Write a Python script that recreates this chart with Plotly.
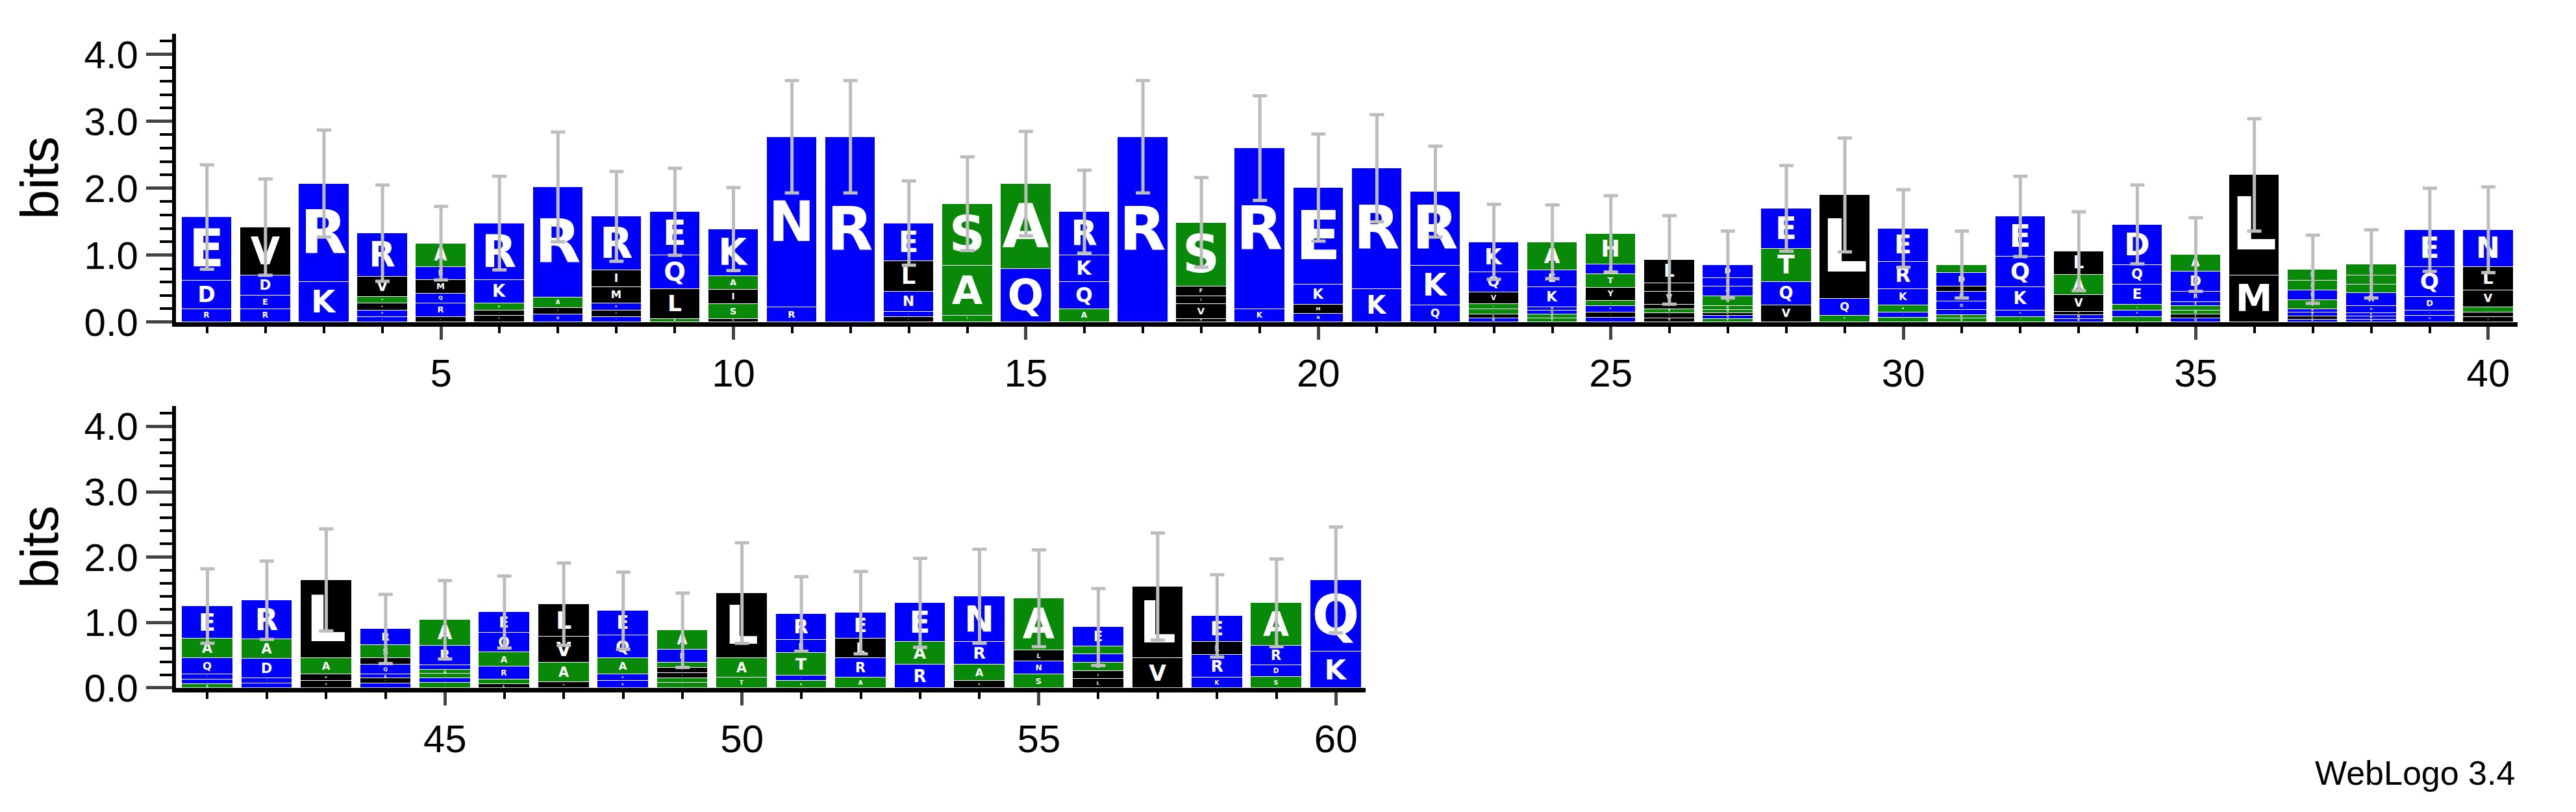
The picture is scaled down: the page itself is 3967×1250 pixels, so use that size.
import plotly.graph_objects as go
from plotly.subplots import make_subplots

# sequence logo data: letters per column listed bottom -> top, heights in bits
positions = list(range(1, 61))
col_letters = [
    "RDE", "REDV", "KR", "QNLAVR", "VRQMEA", "LIAKR", "QIAR", "QLKMIR", "ALQE", "LSIAK",
    "RN", "R", "VQNLE", "TAS", "QA", "AQKR", "R", "YVIFS", "KR", "NMKE",
    "KR", "QKR", "NLGAVQK", "TGQNKEA", "QLKAYTEH", "YWTMVIL", "TNLHASQKD", "VQTE", "TQL", "SQAKRE",
    "SGEQNLDA", "TRKQE", "RNIVAL", "TKAEQD", "QIHGERDA", "ML", "NLEDTRAS", "QKEDRGAS", "RKDQE", "MIAVLN",
    "SKDQAE", "QEDAR", "YMAL", "NMKQLSR", "TNHGERA", "LHRAQE", "MAVL", "RDAQE", "TSMLGEA", "TAL",
    "SKTER", "ARLE", "RAE", "CARN", "SNLA", "LIGDAE", "VL", "KRLE", "SDRA", "KQ",
]
col_heights = [
    [0.2, 0.42, 0.95], [0.2, 0.2, 0.3, 0.72], [0.6, 1.47], [0.08, 0.1, 0.1, 0.1, 0.3, 0.65],
    [0.08, 0.2, 0.15, 0.2, 0.2, 0.35], [0.1, 0.08, 0.1, 0.35, 0.85], [0.12, 0.1, 0.15, 1.65],
    [0.08, 0.1, 0.1, 0.25, 0.25, 0.8], [0.05, 0.45, 0.5, 0.65], [0.05, 0.22, 0.22, 0.2, 0.7],
    [0.23, 2.54], [2.77], [0.08, 0.08, 0.3, 0.45, 0.57], [0.1, 0.75, 0.92], [0.8, 1.27],
    [0.2, 0.4, 0.4, 0.65], [2.77], [0.05, 0.22, 0.12, 0.15, 0.95], [0.2, 2.4], [0.13, 0.13, 0.3, 1.45],
    [0.5, 1.8], [0.25, 0.6, 1.1], [0.06, 0.06, 0.08, 0.07, 0.18, 0.3, 0.45],
    [0.06, 0.06, 0.06, 0.05, 0.3, 0.25, 0.42], [0.07, 0.08, 0.09, 0.08, 0.2, 0.2, 0.15, 0.45],
    [0.06, 0.08, 0.06, 0.06, 0.2, 0.12, 0.35], [0.05, 0.05, 0.04, 0.05, 0.05, 0.15, 0.15, 0.12, 0.2],
    [0.25, 0.35, 0.5, 0.6], [0.1, 0.25, 1.55], [0.07, 0.08, 0.1, 0.25, 0.4, 0.5],
    [0.06, 0.05, 0.08, 0.12, 0.15, 0.08, 0.2, 0.12], [0.08, 0.1, 0.35, 0.45, 0.6],
    [0.05, 0.06, 0.05, 0.25, 0.3, 0.35], [0.08, 0.1, 0.08, 0.3, 0.3, 0.6],
    [0.06, 0.06, 0.06, 0.06, 0.06, 0.16, 0.3, 0.25], [0.7, 1.5],
    [0.04, 0.05, 0.06, 0.05, 0.13, 0.15, 0.14, 0.17], [0.04, 0.05, 0.05, 0.1, 0.2, 0.12, 0.14, 0.17],
    [0.1, 0.08, 0.2, 0.45, 0.55], [0.08, 0.07, 0.08, 0.25, 0.35, 0.55],
    [0.05, 0.07, 0.08, 0.25, 0.3, 0.5], [0.06, 0.08, 0.3, 0.3, 0.6], [0.1, 0.1, 0.25, 1.2],
    [0.06, 0.08, 0.06, 0.15, 0.1, 0.2, 0.25], [0.07, 0.07, 0.07, 0.06, 0.07, 0.3, 0.4],
    [0.05, 0.07, 0.2, 0.22, 0.3, 0.32], [0.08, 0.3, 0.4, 0.5], [0.1, 0.1, 0.25, 0.35, 0.38],
    [0.07, 0.07, 0.08, 0.08, 0.08, 0.2, 0.3], [0.15, 0.3, 1.0], [0.1, 0.08, 0.35, 0.2, 0.4],
    [0.15, 0.3, 0.3, 0.4], [0.35, 0.35, 0.6], [0.1, 0.25, 0.35, 0.7], [0.2, 0.2, 0.17, 0.8],
    [0.13, 0.12, 0.13, 0.13, 0.12, 0.3], [0.45, 1.1], [0.15, 0.35, 0.2, 0.4], [0.16, 0.18, 0.3, 0.66],
    [0.55, 1.1],
]
err_half = [
    0.78, 0.72, 0.8, 0.72, 0.55, 0.7, 0.82, 0.67, 0.65, 0.62,
    0.84, 0.84, 0.63, 0.7, 0.78, 0.62, 0.84, 0.67, 0.78, 0.8,
    0.8, 0.68, 0.56, 0.55, 0.57, 0.66, 0.5, 0.64, 0.85, 0.58,
    0.5, 0.6, 0.59, 0.59, 0.55, 0.84, 0.51, 0.51, 0.62, 0.64,
    0.57, 0.6, 0.78, 0.53, 0.6, 0.55, 0.63, 0.59, 0.57, 0.77,
    0.57, 0.63, 0.68, 0.72, 0.74, 0.59, 0.82, 0.63, 0.67, 0.81,
]

BLUE, GREEN, BLACK = "#0000ff", "#088a08", "#000000"
colour_of = {}
for aa in "RKDEQNH":
    colour_of[aa] = BLUE
for aa in "LVIMFWYPC":
    colour_of[aa] = BLACK
for aa in "STGAH":
    colour_of[aa] = GREEN

fig = make_subplots(rows=2, cols=1)

max_levels = max(len(s) for s in col_letters)
for row, cols in [(1, range(0, 40)), (2, range(40, 60))]:
    for lvl in range(max_levels):
        xs, ys, txt, cs = [], [], [], []
        for i in cols:
            if lvl < len(col_letters[i]):
                xs.append(positions[i])
                ys.append(col_heights[i][lvl])
                txt.append(col_letters[i][lvl])
                cs.append(colour_of[col_letters[i][lvl]])
        fig.add_trace(go.Bar(
            x=xs, y=ys, text=txt, marker=dict(color=cs, line=dict(color="white", width=1)),
            width=0.86, textposition="inside", insidetextanchor="middle", textangle=0,
            textfont=dict(family="DejaVu Sans", color="white", size=120, weight="bold"),
            hoverinfo="skip", showlegend=False,
        ), row=row, col=1)
    totals = [sum(col_heights[i]) for i in cols]
    fig.add_trace(go.Scatter(
        x=[positions[i] for i in cols], y=totals, mode="markers",
        marker=dict(size=1, color="rgba(0,0,0,0)"),
        error_y=dict(type="data", array=[err_half[i] for i in cols], color="#bdbdbd",
                     thickness=5, width=11),
        hoverinfo="skip", showlegend=False,
    ), row=row, col=1)

axis_font = dict(family="Liberation Sans, Arial", size=60, color="black")
common_y = dict(range=[0, 4.31], tickvals=[0, 1, 2, 3, 4], tickformat=".1f", ticks="outside",
                ticklen=40, tickwidth=5, showline=True, linewidth=6, linecolor="black",
                showgrid=False, zeroline=False, tickfont=axis_font,
                minor=dict(dtick=0.2, ticks="outside", ticklen=19, tickwidth=4, tickcolor="black"),
                title=dict(text="bits", font=dict(family="Liberation Sans, Arial", size=82, color="black")))
common_x = dict(ticks="outside", ticklen=20, tickwidth=5, showline=True, linewidth=7,
                linecolor="black", showgrid=False, zeroline=False, tickfont=axis_font,
                minor=dict(dtick=1, ticks="outside", ticklen=10, tickwidth=4, tickcolor="black"))

fig.update_xaxes(common_x, row=1, col=1, range=[0.47, 40.5], tickvals=[5, 10, 15, 20, 25, 30, 35, 40],
                 domain=[0.0663, 0.9753])
fig.update_xaxes(common_x, row=2, col=1, range=[40.47, 60.5], tickvals=[45, 50, 55, 60],
                 domain=[0.0663, 0.5281])
fig.update_yaxes(common_y, row=1, col=1, domain=[0.5992, 0.9648])
fig.update_yaxes(common_y, row=2, col=1, domain=[0.136, 0.4928])

fig.add_annotation(text="WebLogo 3.4", xref="paper", yref="paper", x=0.9748, y=0.028,
                   xanchor="right", yanchor="middle", showarrow=False,
                   font=dict(family="Liberation Sans, Arial", size=52, color="black"))

fig.update_layout(width=3967, height=1250, barmode="stack", bargap=0,
                  margin=dict(l=0, r=0, t=0, b=0), plot_bgcolor="white", paper_bgcolor="white")
fig.write_html("out.html")
